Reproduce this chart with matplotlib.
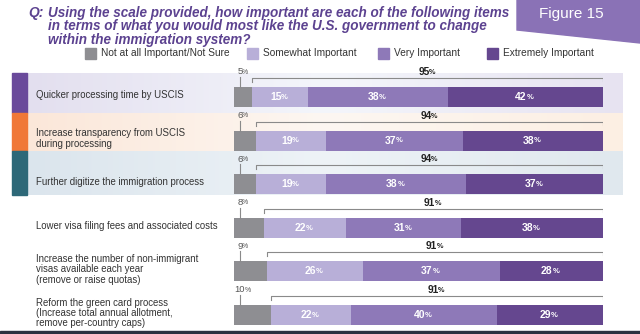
import numpy as np
import matplotlib
matplotlib.use("Agg")
from matplotlib import pyplot as plt
from matplotlib.patches import Rectangle, Polygon
from matplotlib.colors import LinearSegmentedColormap

plt.rcParams['font.family'] = ['Liberation Sans', 'DejaVu Sans']

# data
items = ["Quicker processing time by USCIS",
         "Increase transparency from USCIS\nduring processing",
         "Further digitize the immigration process",
         "Lower visa filing fees and associated costs",
         "Increase the number of non-immigrant\nvisas available each year\n(remove or raise quotas)",
         "Reform the green card process\n(Increase total annual allotment,\nremove per-country caps)"]
not_sure = [5, 6, 6, 8, 9, 10]
somewhat = [15, 19, 19, 22, 26, 22]
very = [38, 37, 38, 31, 37, 40]
extremely = [42, 38, 37, 38, 28, 29]
totals = [95, 94, 94, 91, 91, 91]
series_names = ["Not at all Important/Not Sure", "Somewhat Important",
                "Very Important", "Extremely Important"]

colors = ["#8e8e92", "#b8afd8", "#8e79b8", "#65478f"]
purple = "#5c4290"

W, H = 640, 334
fig = plt.figure(figsize=(W / 100, H / 100), dpi=100)
fig.patch.set_facecolor("white")

# background axes in pixel units
bg = fig.add_axes([0, 0, 1, 1])
bg.set_xlim(0, W)
bg.set_ylim(H, 0)
bg.axis("off")

row0, step = 97, 43.6  # pixel centre of first row, row spacing


def row_px(i):
    return row0 + step * i


# shaded bands for the first three rows
bands = [(73, 113, "#6a4a9b", ["#e3dfef", "#f4f6fb", "#e7e3f1"]),
         (113, 151, "#f07838", ["#fbe7d9", "#fdf7f2", "#fcefe3"]),
         (151, 195, "#2d6878", ["#dbe5ed", "#eef3f7", "#e0e8ee"])]
for y0, y1, tab, grad in bands:
    cmap = LinearSegmentedColormap.from_list("g", grad)
    bg.imshow(np.linspace(0, 1, 200)[None, :], cmap=cmap, aspect="auto",
              extent=(27, 623, y1, y0), zorder=0)
    bg.add_patch(Rectangle((12, y0), 15, y1 - y0, color=tab, zorder=1))
bg.set_xlim(0, W)
bg.set_ylim(H, 0)

# bottom rule
bg.add_patch(Rectangle((0, 331), W, 3, color="#2c3240", zorder=1))

# figure tab
bg.add_patch(Polygon([(517, 0), (640, 0), (640, 43), (517, 30)],
                     closed=True, color="#8a72b6", zorder=1))
bg.text(571, 14, "Figure 15", color="white", fontsize=11, ha="center",
        va="center", zorder=2)

# question
bg.text(28, 13, "Q:", color=purple, fontsize=10, fontweight="bold",
        fontstyle="italic", va="center")
bg.text(48, 5.5, "Using the scale provided, how important are each of the following items\n"
        "in terms of what you would most like the U.S. government to change\n"
        "within the immigration system?", color=purple, fontsize=9.75,
        fontweight="bold", fontstyle="italic", va="top", linespacing=0.98)

# legend
leg_x = [85, 247, 378, 487]
for x, name, c in zip(leg_x, series_names, colors):
    bg.add_patch(Rectangle((x, 48), 11, 11, color=c))
    bg.text(x + 16, 53.5, name, fontsize=7.3, va="center", color="#333333")

# row labels
for i, lab in enumerate(items):
    bg.text(36, row_px(i) - 2, lab, fontsize=6.9, va="center", color="#333333",
            linespacing=1.03)

# bar axes
x0, x1 = 234, 603
ax = fig.add_axes([x0 / W, 0, (x1 - x0) / W, 1])
ax.set_xlim(0, 100)
ax.set_ylim((H - row0) / step, -row0 / step)
ax.axis("off")
ax.patch.set_alpha(0)

data = np.array([not_sure, somewhat, very, extremely], dtype=float)
scale = 100 / data.sum(axis=0)  # stretch each row to full width

ypos = np.arange(len(items))
bh = 20 / step
left = np.zeros(len(items))
for k in range(4):
    vals = data[k]
    w = vals * scale
    ax.barh(ypos, w, left=left, height=bh, color=colors[k], zorder=2)
    if k > 0:
        for i in range(len(items)):
            t = ax.text(left[i] + w[i] / 2 - 1.2, ypos[i], str(int(vals[i])),
                        color="white", fontsize=7.5, fontweight="bold",
                        ha="center", va="center", zorder=3)
            ax.annotate("%", xy=(1, 0.12), xycoords=t, xytext=(-0.3, 0),
                        textcoords="offset points", fontsize=5.5,
                        color="white", fontweight="bold", va="bottom", zorder=3)
    left = left + w

px = 1 / step  # one pixel in row units
for i in range(len(items)):
    top = ypos[i] - bh / 2
    yb = top - 9 * px
    xs = data[0, i] * scale[i]
    # bracket over the important share
    ax.plot([xs, xs, 100, 100], [yb + 4 * px, yb, yb, yb + 3 * px],
            color="#8a8a8a", lw=0.8, zorder=3)
    t = ax.text((xs + 100) / 2 - 1, yb - 6 * px, str(totals[i]), fontsize=7.3,
                fontweight="bold", color="#222222", ha="center", va="center")
    ax.annotate("%", xy=(1, 0.1), xycoords=t, xytext=(-0.3, 0),
                textcoords="offset points", fontsize=5.2, fontweight="bold",
                color="#222222", va="bottom")
    # not-sure callout
    ax.plot([1.6, 1.6], [yb - 1 * px, top], color="#8a8a8a", lw=0.8, zorder=3)
    t = ax.text(1.6, yb - 6 * px, str(not_sure[i]), fontsize=6.8,
                color="#555555", ha="center", va="center")
    ax.annotate("%", xy=(1, 0.1), xycoords=t, xytext=(-0.3, 0),
                textcoords="offset points", fontsize=5,
                color="#555555", va="bottom")

fig.savefig("out.png", dpi=100)
